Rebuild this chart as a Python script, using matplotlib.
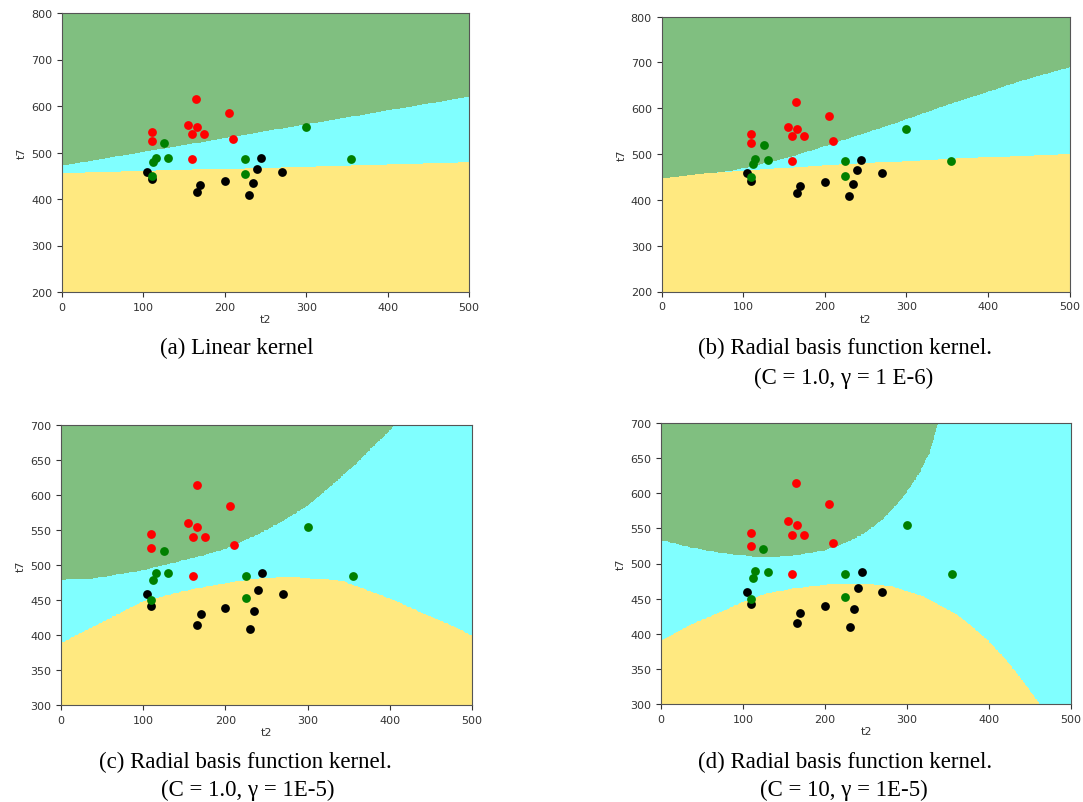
"""
SVM decision regions on (t2, t7) for four kernels, redrawn from the figure.
Boundaries are read off the original picture (boundary samples per panel).
"""

import matplotlib
matplotlib.use("Agg")
import matplotlib.pyplot as plt
from matplotlib.colors import ListedColormap
import numpy as np

# ---- samples (t2, t7) ----
RED_T2 = [165, 205, 155, 166, 160, 175, 110, 110, 210, 160]
RED_T7 = [614, 584, 560, 555, 540, 540, 544, 525, 529, 485]
GREEN_T2 = [125, 115, 112, 130, 110, 225, 225, 300, 355]
GREEN_T7 = [520, 489, 479, 488, 450, 485, 453, 555, 485]
BLACK_T2 = [105, 110, 245, 240, 270, 200, 235, 170, 166, 230]
BLACK_T7 = [459, 442, 488, 465, 459, 439, 435, 430, 415, 409]

# ---- boundaries: upper (green) and lower (yellow) ----
A_UP_X, A_UP_Y = [0, 500], [471.5, 620]
A_LO_X, A_LO_Y = [0, 500], [455.7, 478.6]

B_UP_X = [0, 86.7, 114.5, 155, 196, 237, 278, 319, 360, 400.7, 441.5, 500]
B_UP_Y = [446.9, 463.7, 474.6, 492, 514.6, 538.7, 562, 587.5, 613, 636, 660, 689.4]
B_LO_X = [0, 86.7, 196, 278, 360, 441.5, 500]
B_LO_Y = [452, 462, 475, 482.5, 490, 496, 500]

C_UP_X = [0, 40, 98, 159, 198, 240, 270, 299, 320, 341, 362, 382, 395, 406, 420]
C_UP_Y = [478.6, 481, 492, 509.5, 522, 544, 563, 584, 604, 626, 648, 672, 686, 700, 800]
C_LO_X = [0, 49.8, 98.4, 151, 198.4, 240.1, 280.6, 341.3, 402, 442.5, 483, 500]
C_LO_Y = [388.6, 418.1, 447.6, 463.3, 473.8, 481, 482.9, 477.6, 451.4, 430, 409.5, 399]

D_UP_X = [0, 35.7, 76.3, 116.8, 157.4, 198, 222.3, 246.7, 271, 295.3, 315.6, 327.8, 337.9, 345]
D_UP_Y = [533.5, 523, 514.5, 509.3, 510.3, 518.4, 527.9, 542, 563.4, 594.2, 629.8, 658.2, 700, 800]
D_LO_X = [0, 35.7, 76.3, 99.8, 129, 157.4, 200, 238.5, 279, 319.7, 360.2, 380, 400, 420, 440, 455, 462, 470]
D_LO_Y = [390.2, 412.5, 432.9, 445.2, 457.5, 463.7, 469.9, 471.8, 468.4, 453.3, 428, 410, 389, 364, 335, 311, 300, 250]

PANELS = [
    ("a", (A_UP_X, A_UP_Y), (A_LO_X, A_LO_Y), (200, 800), 100,
     ["(a) Linear kernel"]),
    ("b", (B_UP_X, B_UP_Y), (B_LO_X, B_LO_Y), (200, 800), 100,
     ["(b) Radial basis function kernel.", "(C = 1.0, \u03b3 = 1 E-6)"]),
    ("c", (C_UP_X, C_UP_Y), (C_LO_X, C_LO_Y), (300, 700), 50,
     ["(c) Radial basis function kernel.", "(C = 1.0, \u03b3 = 1E-5)"]),
    ("d", (D_UP_X, D_UP_Y), (D_LO_X, D_LO_Y), (300, 700), 50,
     ["(d) Radial basis function kernel.", "(C = 10, \u03b3 = 1E-5)"]),
]

# axes boxes in pixels (left, right, top, bottom) and caption centres
W, H = 1083, 803
BOXES = {
    "a": (62, 469, 14, 293),
    "b": (661.5, 1069.5, 17.5, 292.5),
    "c": (61, 472, 426, 706),
    "d": (661, 1071, 424, 705),
}
CAPTION_XY = {
    "a": [(237, 348)],
    "b": [(845, 348), (844, 378)],
    "c": [(245, 762), (248, 790)],
    "d": [(845, 762), (844, 790)],
}

REGION_CMAP = ListedColormap(["#80bf80", "#80ffff", "#ffe980"])


def region_grid(up, lo, ylim):
    xs = np.arange(0, 501, 1.0)
    ys = np.arange(ylim[0], ylim[1] + 1, 1.0)
    X, Y = np.meshgrid(xs, ys)
    g = np.interp(X, up[0], up[1])
    h = np.interp(X, lo[0], lo[1])
    cls = np.where(Y > g, 0, np.where(Y < h, 2, 1))
    return xs, ys, cls


def main():
    fig = plt.figure(figsize=(W / 100, H / 100), dpi=100)
    fig.patch.set_facecolor("white")

    for key, up, lo, ylim, ystep, caption in PANELS:
        l, r, t, b = BOXES[key]
        ax = fig.add_axes([l / W, 1 - b / H, (r - l) / W, (b - t) / H])
        xs, ys, cls = region_grid(up, lo, ylim)
        ax.pcolormesh(xs, ys, cls, cmap=REGION_CMAP, vmin=0, vmax=2,
                      shading="nearest", rasterized=True)

        ax.scatter(BLACK_T2, BLACK_T7, s=40, c="black", zorder=3, linewidths=0)
        ax.scatter(RED_T2, RED_T7, s=40, c="red", zorder=3, linewidths=0)
        ax.scatter(GREEN_T2, GREEN_T7, s=40, c="green", zorder=4, linewidths=0)

        ax.set_xlim(0, 500)
        ax.set_ylim(*ylim)
        ax.set_xticks(np.arange(0, 501, 100))
        ax.set_yticks(np.arange(ylim[0], ylim[1] + 1, ystep))
        ax.tick_params(labelsize=8, colors="#333333", length=3.5, width=0.8)
        for sp in ax.spines.values():
            sp.set_color("#555555")
            sp.set_linewidth(0.8)
        ax.set_xlabel("t2", fontsize=8, color="#333333", labelpad=2)
        ax.set_ylabel("t7", fontsize=8, color="#333333", labelpad=3)

        for line, (cx, cy) in zip(caption, CAPTION_XY[key]):
            fig.text(cx / W, 1 - cy / H, line, ha="center", va="center",
                     family="Liberation Serif", fontsize=16.5, color="black")

    fig.savefig("out.png", dpi=100, facecolor="white")
    plt.close(fig)


if __name__ == "__main__":
    main()
